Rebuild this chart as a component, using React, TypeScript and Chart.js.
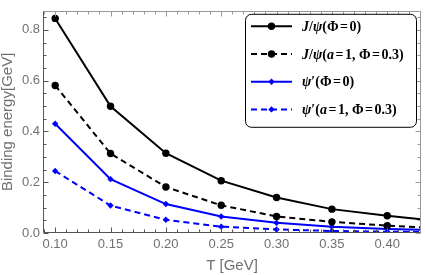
import { useEffect, useRef } from "react";
import { Chart, registerables } from "chart.js";

Chart.register(...registerables);

// ---- data ----
const temperatures = [0.1, 0.15, 0.2, 0.25, 0.3, 0.35, 0.4, 0.45];
const jpsiPhi0 = [0.845, 0.499, 0.314, 0.206, 0.14, 0.094, 0.068, 0.046];
const jpsiA1Phi03 = [0.581, 0.313, 0.181, 0.109, 0.065, 0.044, 0.029, 0.018];
const psiPrimePhi0 = [0.43, 0.212, 0.114, 0.065, 0.04, 0.025, 0.016, 0.01];
const psiPrimeA1Phi03 = [0.244, 0.108, 0.052, 0.025, 0.014, 0.008, 0.005, 0.003];
const seriesLabels = ["J/ψ(Φ=0)", "J/ψ(a=1, Φ=0.3)", "ψ′(Φ=0)", "ψ′(a=1, Φ=0.3)"];
const xTickValues = [0.1, 0.15, 0.2, 0.25, 0.3, 0.35, 0.4];
const yTickValues = [0, 0.2, 0.4, 0.6, 0.8];
const xTitle = "T [GeV]";
const yTitle = "Binding energy[GeV]";

const X_MIN = 0.089;
const X_MAX = 0.4305;
const Y_MIN = 0;
const Y_MAX = 0.875;

const sans = "'Liberation Sans', Arial, sans-serif";
const serif = "'Liberation Serif', 'Times New Roman', serif";
const gray = "#707070";

const toPoints = (ys: number[]) => temperatures.map((t, i) => ({ x: t, y: ys[i] }));

const framePlugin = {
  id: "mmaFrame",
  afterDatasetsDraw(chart: any) {
    const { ctx, chartArea, scales } = chart;
    const { left, right, top, bottom } = chartArea;
    const xs = scales.x;
    const ys = scales.y;
    ctx.save();
    ctx.lineWidth = 1;
    const L = Math.round(left) + 0.5;
    const R = Math.round(right) - 0.5;
    const T = Math.round(top) + 0.5;
    const B = Math.round(bottom) - 0.5;
    for (let k = 9; k <= 43; k++) {
      const v = k / 100;
      const px = Math.round(xs.getPixelForValue(v)) + 0.5;
      if (px < L || px > R) continue;
      const major = k % 5 === 0;
      const len = major ? 5 : 3;
      ctx.strokeStyle = "#555";
      ctx.beginPath();
      ctx.moveTo(px, B);
      ctx.lineTo(px, B - len);
      ctx.stroke();
      ctx.strokeStyle = "#999";
      ctx.beginPath();
      ctx.moveTo(px, T);
      ctx.lineTo(px, T + len);
      ctx.stroke();
    }
    for (let k = 0; k <= 17; k++) {
      const v = k * 0.05;
      const py = Math.round(ys.getPixelForValue(v)) + 0.5;
      if (py < T || py > B + 1) continue;
      const major = k % 4 === 0;
      const len = major ? 5 : 3;
      ctx.strokeStyle = "#555";
      ctx.beginPath();
      ctx.moveTo(L, py);
      ctx.lineTo(L + len, py);
      ctx.stroke();
      ctx.strokeStyle = "#999";
      ctx.beginPath();
      ctx.moveTo(R, py);
      ctx.lineTo(R - len, py);
      ctx.stroke();
    }
    ctx.strokeStyle = "#999";
    ctx.beginPath();
    ctx.moveTo(L, T);
    ctx.lineTo(R, T);
    ctx.lineTo(R, B);
    ctx.stroke();
    ctx.strokeStyle = "#555";
    ctx.beginPath();
    ctx.moveTo(L, T);
    ctx.lineTo(L, B);
    ctx.lineTo(R, B);
    ctx.stroke();
    ctx.restore();
  },
};

function drawMarker(ctx: CanvasRenderingContext2D, style: string, r: number, x: number, y: number, color: string) {
  ctx.fillStyle = color;
  ctx.beginPath();
  if (style === "circle") {
    ctx.arc(x, y, r, 0, Math.PI * 2);
  } else {
    ctx.moveTo(x, y - r);
    ctx.lineTo(x + r, y);
    ctx.lineTo(x, y + r);
    ctx.lineTo(x - r, y);
    ctx.closePath();
  }
  ctx.fill();
}

function drawMathLabel(ctx: CanvasRenderingContext2D, text: string, x: number, y: number) {
  let cx = x;
  const size = 14;
  for (const ch of Array.from(text)) {
    const italic = /[A-Za-zψ]/.test(ch);
    ctx.font = `${italic ? "italic " : ""}bold ${size}px ${serif}`;
    let pre = 0;
    let post = 0;
    if (ch === "=") {
      pre = 1.5;
      post = 1.5;
    }
    cx += pre;
    ctx.fillText(ch, cx, y);
    cx += ctx.measureText(ch).width + post;
  }
}

const legendPlugin = {
  id: "mmaLegend",
  afterDraw(chart: any) {
    const { ctx, chartArea } = chart;
    const bx = chartArea.right - 176;
    const by = chartArea.top + 3;
    const bw = 171;
    const bh = 113;
    ctx.save();
    ctx.beginPath();
    (ctx as any).roundRect(bx + 0.5, by + 0.5, bw, bh, 6);
    ctx.fillStyle = "#fff";
    ctx.fill();
    ctx.strokeStyle = "#000";
    ctx.lineWidth = 1;
    ctx.stroke();
    chart.data.datasets.forEach((ds: any, i: number) => {
      const cy = by + 12.5 + i * 27.7;
      const x0 = bx + 6;
      const x1 = bx + 47;
      ctx.strokeStyle = ds.borderColor;
      ctx.lineWidth = ds.borderWidth;
      ctx.setLineDash(ds.borderDash || []);
      ctx.beginPath();
      ctx.moveTo(x0, cy);
      ctx.lineTo(x1, cy);
      ctx.stroke();
      ctx.setLineDash([]);
      drawMarker(ctx, ds.pointStyle, ds.pointRadius, (x0 + x1) / 2, cy, ds.borderColor);
      ctx.fillStyle = "#000";
      ctx.textBaseline = "middle";
      ctx.textAlign = "left";
      drawMathLabel(ctx, ds.label, bx + 57, cy + 1);
    });
    ctx.restore();
  },
};

export default function App() {
  const canvasRef = useRef<HTMLCanvasElement | null>(null);

  useEffect(() => {
    document.body.style.margin = "0";
    const canvas = canvasRef.current;
    if (!canvas) return;
    const makeDs = (label: string, ys: number[], color: string, dashed: boolean, style: string, r: number) => ({
      label,
      data: toPoints(ys),
      borderColor: color,
      backgroundColor: color,
      borderWidth: 2,
      borderDash: dashed ? [6, 4] : [],
      pointStyle: style === "circle" ? "circle" : "rectRot",
      pointRadius: r,
      pointBorderWidth: 0,
      pointBackgroundColor: color,
      tension: 0,
      clip: 0,
    });
    const chart = new Chart(canvas, {
      type: "line",
      data: {
        datasets: [
          makeDs(seriesLabels[0], jpsiPhi0, "#000000", false, "circle", 3.7),
          makeDs(seriesLabels[1], jpsiA1Phi03, "#000000", true, "circle", 3.7),
          makeDs(seriesLabels[2], psiPrimePhi0, "#0000ff", false, "diamond", 3.2),
          makeDs(seriesLabels[3], psiPrimeA1Phi03, "#0000ff", true, "diamond", 3.2),
        ] as any,
      },
      options: {
        animation: false,
        responsive: false,
        maintainAspectRatio: false,
        layout: { padding: { top: 1, right: 2, left: 0, bottom: 0 } },
        plugins: { legend: { display: false }, tooltip: { enabled: false } },
        scales: {
          x: {
            type: "linear",
            min: X_MIN,
            max: X_MAX,
            afterFit: (s: any) => {
              s.height = 42;
            },
            afterBuildTicks: (s: any) => {
              s.ticks = xTickValues.map((v) => ({ value: v }));
            },
            grid: { display: false, drawTicks: false },
            border: { display: false },
            ticks: {
              autoSkip: false,
              maxRotation: 0,
              padding: 4,
              color: gray,
              font: { family: sans, size: 13 },
              callback: (v: any) => Number(v).toFixed(2),
            },
            title: {
              display: true,
              text: xTitle,
              color: gray,
              font: { family: sans, size: 15 },
              padding: { top: 0, bottom: 0 },
            },
          },
          y: {
            type: "linear",
            min: Y_MIN,
            max: Y_MAX,
            afterFit: (s: any) => {
              s.width = 43;
            },
            afterBuildTicks: (s: any) => {
              s.ticks = yTickValues.map((v) => ({ value: v }));
            },
            grid: { display: false, drawTicks: false },
            border: { display: false },
            ticks: {
              autoSkip: false,
              padding: 3,
              color: gray,
              font: { family: sans, size: 13 },
              callback: (v: any) => Number(v).toFixed(1),
            },
            title: {
              display: true,
              text: yTitle,
              color: gray,
              font: { family: sans, size: 15 },
              padding: { top: -1, bottom: 0 },
            },
          },
        },
      },
      plugins: [framePlugin, legendPlugin],
    });
    return () => chart.destroy();
  }, []);

  return (
    <div style={{ width: 425, height: 275, position: "relative" }}>
      <canvas ref={canvasRef} width={425} height={275} style={{ display: "block" }} />
    </div>
  );
}
